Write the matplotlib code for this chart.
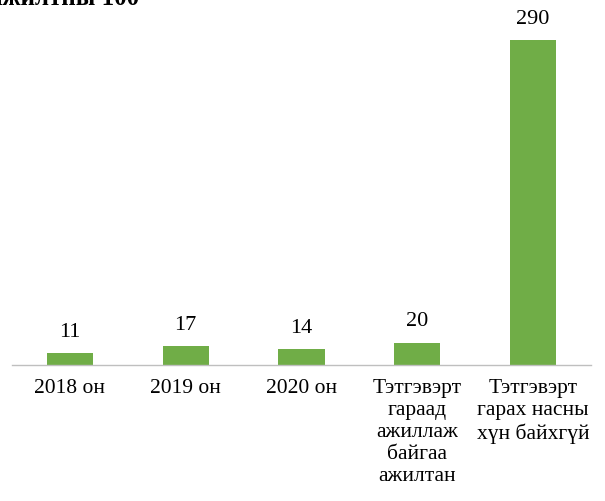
import matplotlib.pyplot as plt

categories = ["2018 он", "2019 он", "2020 он",
              "Тэтгэвэрт\nгараад\nажиллаж\nбайгаа\nажилтан",
              "Тэтгэвэрт\nгарах насны\nхүн байхгүй"]
values = [11, 17, 14, 20, 290]
title = "ажилтны 100"

plt.rcParams['font.family'] = ['Liberation Serif', 'DejaVu Serif']

fig = plt.figure(figsize=(6.05, 5.01), dpi=100)
ax = fig.add_axes([12 / 605, (501 - 365) / 501, 579 / 605, 336 / 501])

x = range(len(values))
bars = ax.bar(x, values, width=0.4, color="#70AD47")
ax.set_xlim(-0.5, len(values) - 0.5)
ax.set_ylim(0, 300)

for b, v in zip(bars, values):
    ax.annotate(str(v), (b.get_x() + b.get_width() / 2, v),
                xytext=(0, 8), textcoords="offset points",
                ha="center", va="bottom", fontsize=16)

ax.set_xticks(list(x))
ax.set_xticklabels(categories, fontsize=15.5, linespacing=1.22, va="top")
ax.tick_params(axis="x", length=0, pad=10)
ax.set_yticks([])
for s in ["top", "right", "left"]:
    ax.spines[s].set_visible(False)
ax.spines["bottom"].set_color("#BFBFBF")
ax.spines["bottom"].set_linewidth(1)

# title sits mostly above the top edge, as in the reference
fig.text(-10 / 605, 1 - 10 / 501, title, fontsize=18, fontweight="bold",
         ha="left", va="bottom")

fig.savefig("out.png", dpi=100)
